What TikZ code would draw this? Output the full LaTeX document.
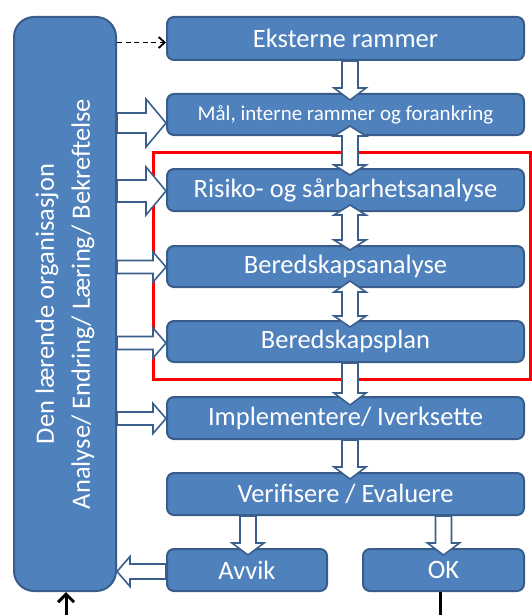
\documentclass[tikz,border=0pt]{standalone}
\usepackage{fontspec}
\setmainfont{Carlito}
\usetikzlibrary{calc,arrows.meta}

\definecolor{boxfill}{HTML}{4F81BD}
\definecolor{boxline}{HTML}{385D8A}
\definecolor{arrline}{HTML}{3B5F8D}

\tikzset{
  box/.style={draw=boxline, fill=boxfill, line width=2pt, rounded corners=7pt,
    text=white, inner sep=0pt, font=\fontsize{26.5}{30}\selectfont},
  blk/.style={draw=arrline, fill=white, line width=1.6pt, line join=miter},
  frame/.style={draw=red, line width=3pt},
}

% hollow block arrows: shaft half width #3, head half width #4, head length #5
% down: shaft starts at y of #1, tip at #2
\newcommand\blkdown[5]{%
  \filldraw[blk] let \p1=#1, \p2=#2 in
    (\x2-#3pt,\y1) -- (\x2-#3pt,\y2+#5pt) -- (\x2-#4pt,\y2+#5pt) -- (\x2,\y2)
    -- (\x2+#4pt,\y2+#5pt) -- (\x2+#3pt,\y2+#5pt) -- (\x2+#3pt,\y1) -- cycle;}
% double: tips at #1 (top) and #2 (bottom)
\newcommand\blkdouble[5]{%
  \filldraw[blk] let \p1=#1, \p2=#2 in
    (\x2,\y1) -- (\x2+#4pt,\y1-#5pt) -- (\x2+#3pt,\y1-#5pt) -- (\x2+#3pt,\y2+#5pt)
    -- (\x2+#4pt,\y2+#5pt) -- (\x2,\y2) -- (\x2-#4pt,\y2+#5pt) -- (\x2-#3pt,\y2+#5pt)
    -- (\x2-#3pt,\y1-#5pt) -- (\x2-#4pt,\y1-#5pt) -- cycle;}
% right: shaft starts at x of #1, tip at #2
\newcommand\blkright[5]{%
  \filldraw[blk] let \p1=#1, \p2=#2 in
    (\x1,\y2+#3pt) -- (\x2-#5pt,\y2+#3pt) -- (\x2-#5pt,\y2+#4pt) -- (\x2,\y2)
    -- (\x2-#5pt,\y2-#4pt) -- (\x2-#5pt,\y2-#3pt) -- (\x1,\y2-#3pt) -- cycle;}
% left: shaft starts at #1, tip at x of #2
\newcommand\blkleft[5]{%
  \filldraw[blk] let \p1=#1, \p2=#2 in
    (\x1,\y1+#3pt) -- (\x2+#5pt,\y1+#3pt) -- (\x2+#5pt,\y1+#4pt) -- (\x2,\y1)
    -- (\x2+#5pt,\y1-#4pt) -- (\x2+#5pt,\y1-#3pt) -- (\x1,\y1-#3pt) -- cycle;}

\begin{document}
\begin{tikzpicture}[x=1pt,y=-1pt]
\useasboundingbox (0,0) rectangle (531,615);

% red frame around the analysis and planning steps
\draw[frame] (153.5,152) rectangle (530,379);

% the learning organisation
\node[box, rounded corners=20pt, minimum width=102, minimum height=574] (left) at (65,304) {};
\node[text=white, rotate=90, align=center, font=\fontsize{26.5}{36}\selectfont] (lefttxt) at (65,304)
  {Den lærende organisasjon\\Analyse/ Endring/ Læring/ Bekreftelse};

% process steps
\node[box, minimum width=357, minimum height=43] (ext)  at (345.5,38.5) {Eksterne rammer};
\node[box, minimum width=357, minimum height=41, font=\fontsize{21}{24}\selectfont] (mal) at (345.5,114.5) {Mål, interne rammer og forankring};
\node[box, minimum width=357, minimum height=42] (ris)  at (345.5,190) {Risiko- og sårbarhetsanalyse};
\node[box, minimum width=357, minimum height=41] (ber)  at (345.5,266.5) {Beredskapsanalyse};
\node[box, minimum width=357, minimum height=41] (plan) at (345.5,341.5) {Beredskapsplan};
\node[box, minimum width=357, minimum height=42] (imp)  at (345.5,418) {Implementere/ Iverksette};
\node[box, minimum width=357, minimum height=42] (ver)  at (345.5,494) {Verifisere / Evaluere};
\node[box, minimum width=160, minimum height=42] (avvik) at (247,570) {Avvik};
\node[box, minimum width=161, minimum height=42] (ok)   at (443.5,570) {OK};

% dashed link to the external framework
\coordinate (dtip) at ($(ext.west)+(0,4)$);
\draw[dash pattern=on 5pt off 3.5pt, line width=1.8pt,
  -{Straight Barb[length=6pt,width=11pt,line width=1.8pt]}] (left.east |- dtip) -- (dtip);

% vertical flow between the steps
\blkdown{(ext.south)}{($(mal.north)+(4.5,7)$)}{8}{16}{12}
\blkdouble{($(mal.south)+(4.5,-10)$)}{($(ris.north)+(4.5,7)$)}{8}{16}{10}
\blkdouble{($(ris.south)+(4.5,-7)$)}{($(ber.north)+(4.5,5)$)}{8}{16}{10}
\blkdouble{($(ber.south)+(4.5,-7)$)}{($(plan.north)+(4.5,7)$)}{8}{16}{11}
\blkdown{(plan.south)}{($(imp.north)+(4.5,9)$)}{8}{16}{12}
\blkdown{(imp.south)}{($(ver.north)+(4.5,7)$)}{8}{16}{12}
\blkdown{(ver.south)}{($(avvik.north)+(1,7)$)}{8}{16}{12}
\blkdown{(ver.south)}{($(ok.north)+(0,7)$)}{8}{16}{12}

% feedback from the learning organisation into the steps
\blkright{(left.east)}{($(mal.west)+(0,8.5)$)}{10}{24}{20}
\blkright{(left.east)}{($(ris.west)+(0,1)$)}{11}{24}{20}
\blkright{(left.east)}{($(ber.west)+(0,0.5)$)}{6.5}{15}{13}
\blkright{(left.east)}{($(plan.west)+(0,1.5)$)}{6.5}{15}{13}
\blkright{(left.east)}{($(imp.west)+(0,0.5)$)}{6.5}{15}{13}
\blkleft{($(avvik.west)+(0,1.5)$)}{(left.east)}{7.5}{15}{13}

% loose ends at the bottom
\coordinate (upfoot) at (66,615);
\coordinate (uptip) at ($(left.south)+(1,0)$);
\draw[line width=3pt, -{Straight Barb[length=8pt,width=16pt,line width=3pt]}] (upfoot) -- (uptip);
\coordinate (okfoot) at (440,615);
\draw[line width=3pt] (ok.south -| okfoot) -- (okfoot);
\end{tikzpicture}
\end{document}
